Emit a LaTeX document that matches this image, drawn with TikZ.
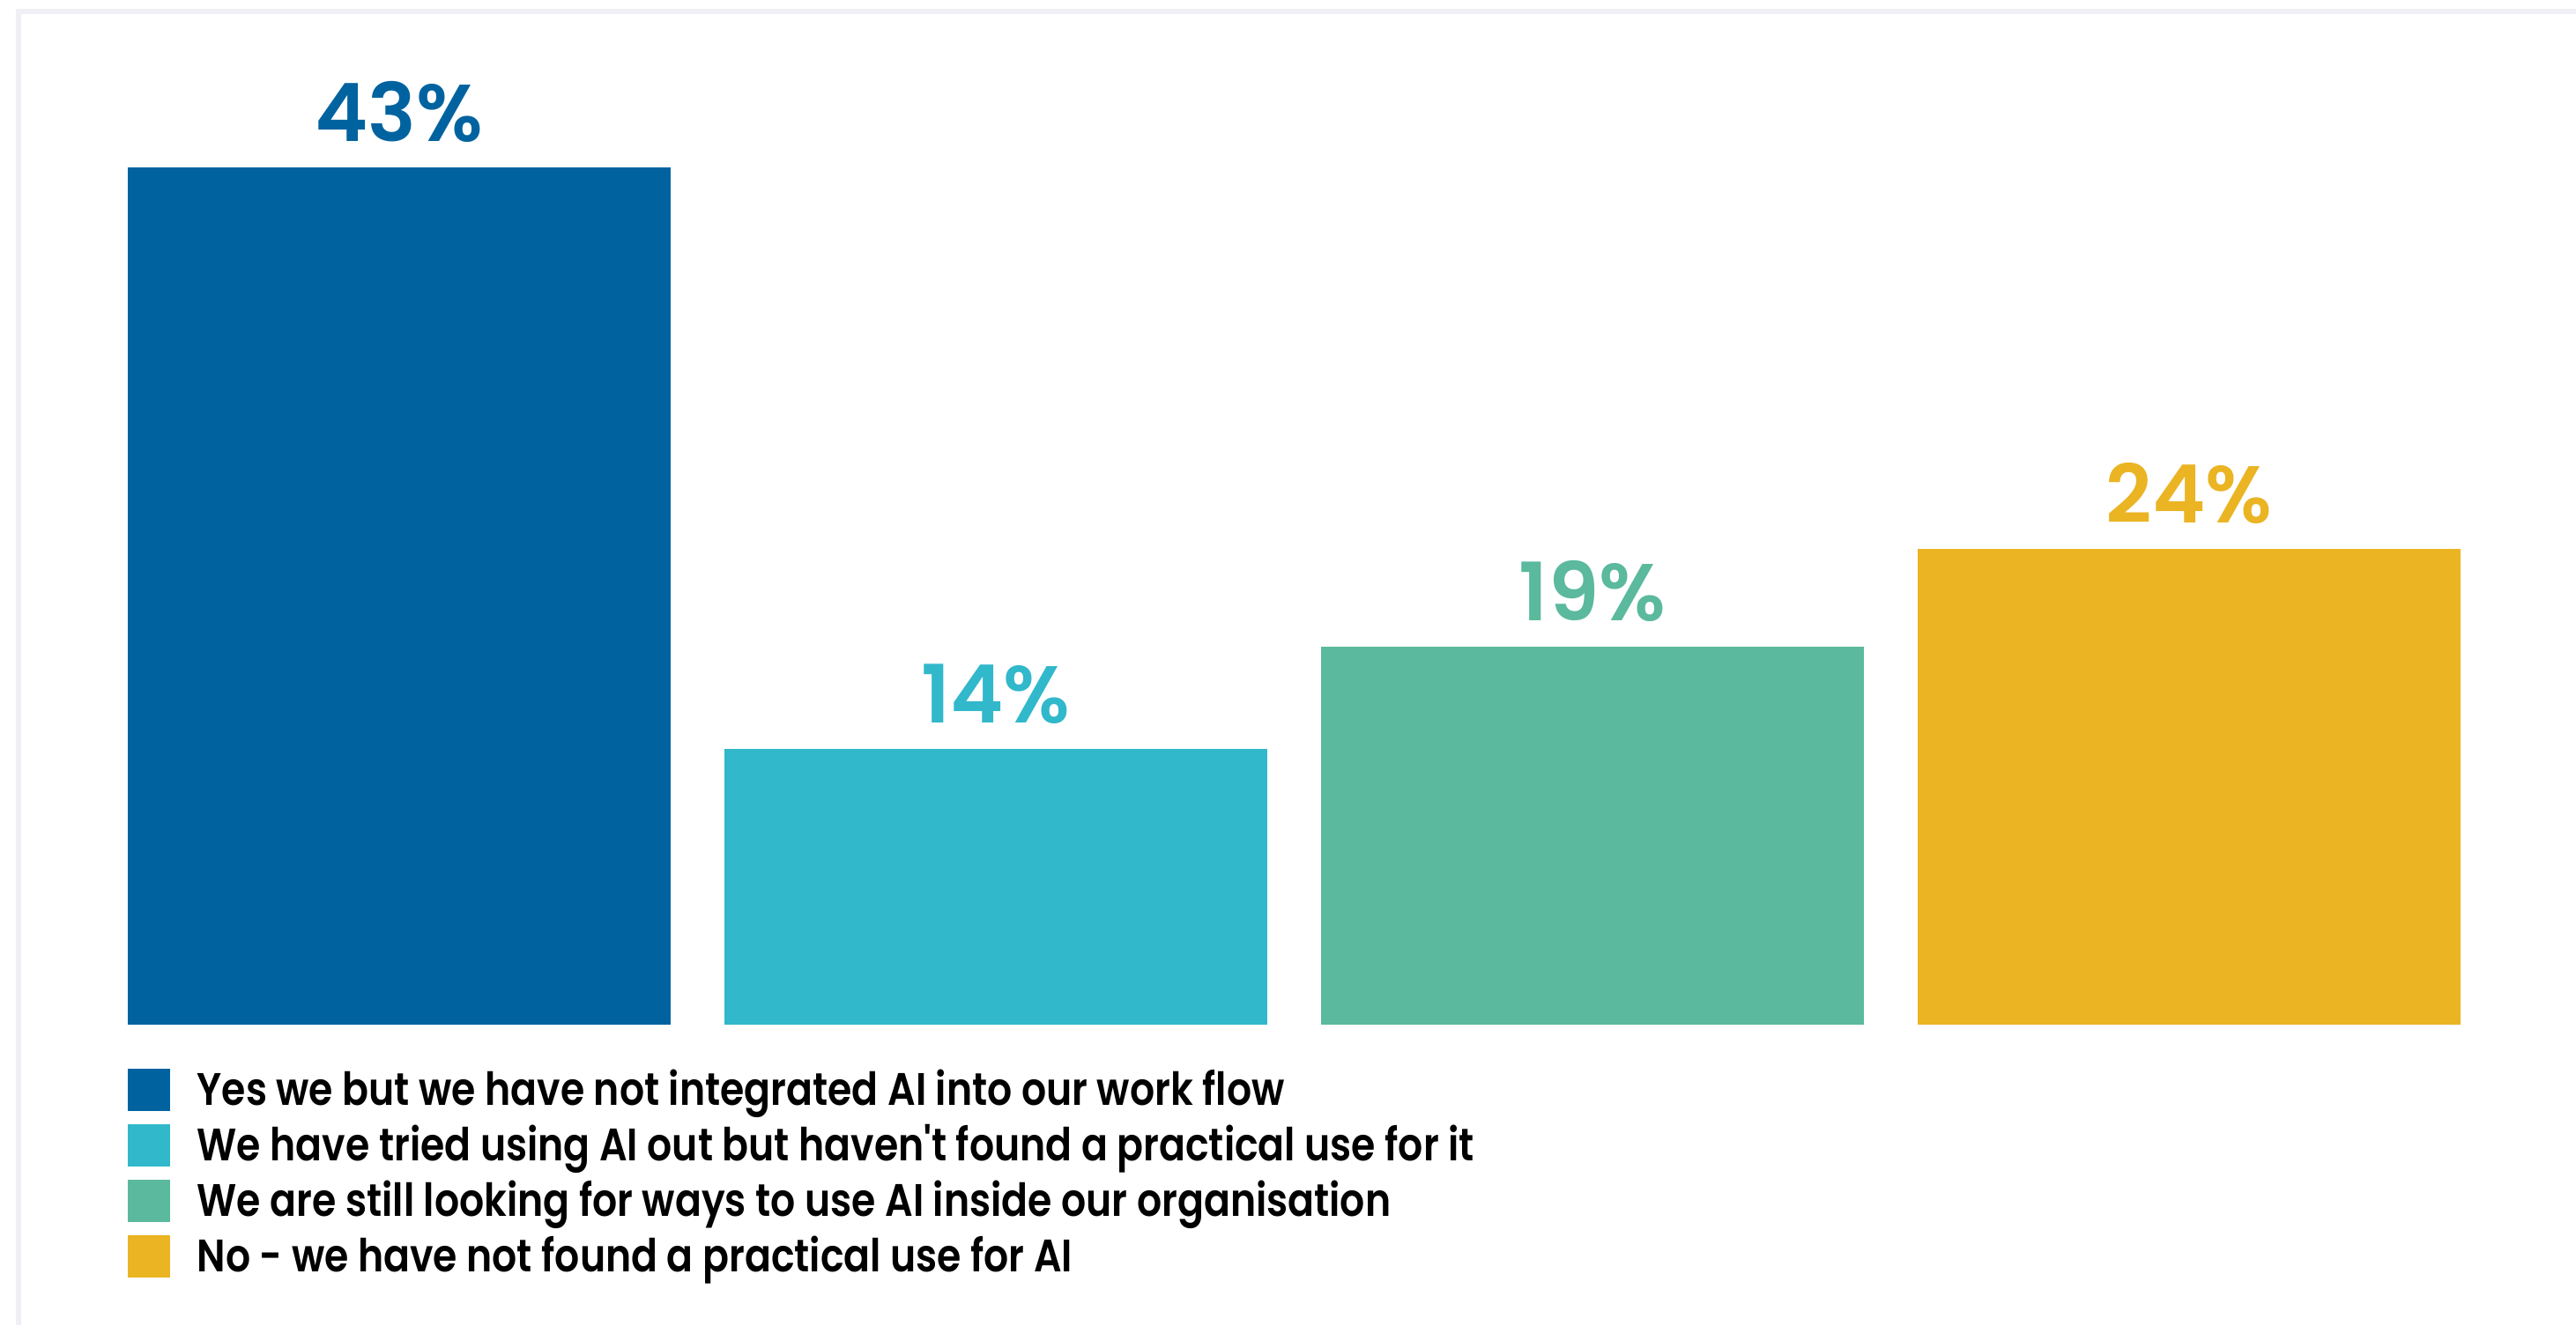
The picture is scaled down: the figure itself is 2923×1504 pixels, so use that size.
\documentclass[tikz,border=0pt]{standalone}
\usepackage{fontspec}
\setmainfont{Poppins}
\newfontfamily\numfont{Poppins SemiBold}
\newfontfamily\legfont{Poppins SemiBold}
\definecolor{cA}{HTML}{0063A0}
\definecolor{cB}{HTML}{31B8CB}
\definecolor{cC}{HTML}{5BB99D}
\definecolor{cD}{HTML}{EAB423}
\definecolor{frame}{HTML}{F0EFF5}
\newcommand{\legsqueeze}[1]{\scalebox{0.855}[1]{#1}}
\begin{document}
\begin{tikzpicture}[x=0.1mm,y=-0.1mm,
  pct/.style={anchor=base,inner sep=0pt,font=\numfont\fontsize{26}{30}\selectfont},
  legsq/.style={inner sep=0pt,minimum width=4.8mm,minimum height=4.8mm,anchor=north west},
  legtxt/.style={anchor=base west,inner sep=0pt,font=\legfont\fontsize{14.7}{17}\selectfont}]
\useasboundingbox[fill=white] (0,0) rectangle (2923,1504);
\draw[frame,line width=6*0.28453pt] (21,1504) -- (21,13) -- (2923,13);
% bars
\fill[cA] (145,190) rectangle (761,1163);
\fill[cB] (822,850) rectangle (1438,1163);
\fill[cC] (1499,734) rectangle (2115,1163);
\fill[cD] (2176,623) rectangle (2792,1163);
% values
\node[pct,text=cA] (v1) at (453,160) {43\%};
\node[pct,text=cB] (v2) at (1130,820) {14\%};
\node[pct,text=cC] (v3) at (1807,704) {19\%};
\node[pct,text=cD] (v4) at (2484,593) {24\%};
% legend
\node[legsq,fill=cA] (s1) at (144,1212) {};
\node[legsq,fill=cB] (s2) at (144,1275) {};
\node[legsq,fill=cC] (s3) at (144,1338) {};
\node[legsq,fill=cD] (s4) at (144,1401) {};
\node[legtxt] (t1) at (223,1254) {\legsqueeze{Yes we but we have not integrated AI into our work flow}};
\node[legtxt] (t2) at (223,1317) {\legsqueeze{We have tried using AI out but haven't found a practical use for it}};
\node[legtxt] (t3) at (223,1380) {\legsqueeze{We are still looking for ways to use AI inside our organisation}};
\node[legtxt] (t4) at (223,1443) {\legsqueeze{No - we have not found a practical use for AI}};
\end{tikzpicture}
\end{document}
